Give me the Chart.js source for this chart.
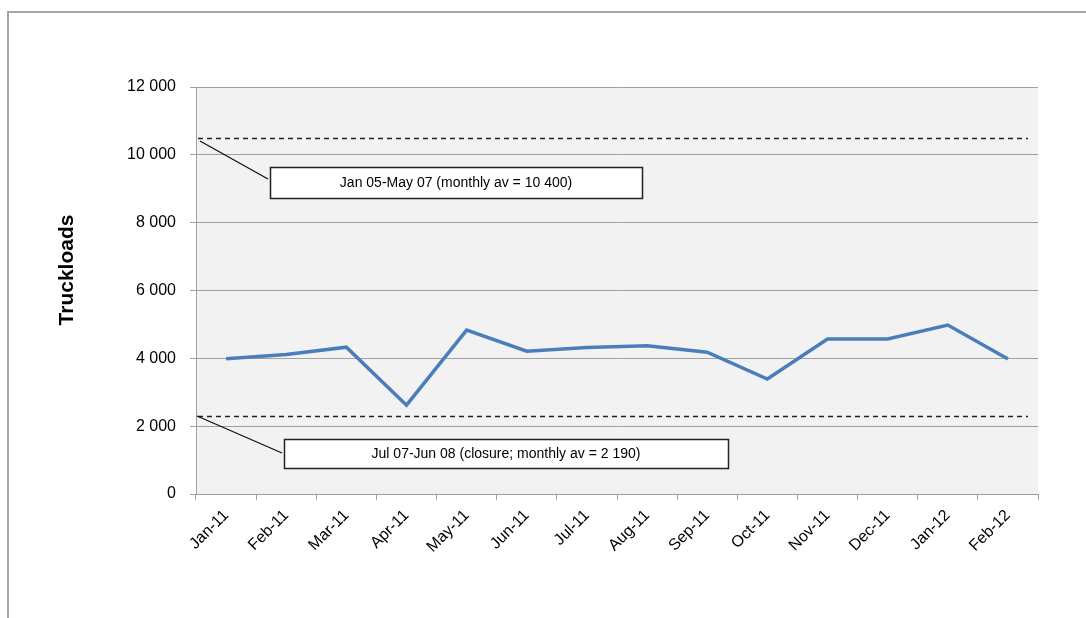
<!DOCTYPE html>
<html>
<head>
<meta charset="utf-8">
<script src="https://cdn.jsdelivr.net/npm/chart.js@4/dist/chart.umd.min.js"></script>
<style>
  html, body { margin: 0; padding: 0; background: #ffffff; }
  #wrap { position: relative; width: 1086px; height: 618px; overflow: hidden; }
  #frame { position: absolute; left: 7px; top: 11px; width: 1200px; height: 700px;
           border-left: 2px solid #a6a6a6; border-top: 2px solid #a6a6a6; pointer-events: none; }
  canvas { position: absolute; left: 0; top: 0; }
</style>
</head>
<body>
<div id="wrap">
  <canvas id="c" width="1086" height="618"></canvas>
  <div id="frame"></div>
</div>
<script>
// ---- data ----
const categories = ["Jan-11","Feb-11","Mar-11","Apr-11","May-11","Jun-11","Jul-11","Aug-11","Sep-11","Oct-11","Nov-11","Dec-11","Jan-12","Feb-12"];
const truckloads = [3990, 4110, 4330, 2620, 4830, 4210, 4320, 4370, 4180, 3390, 4570, 4570, 4980, 3980];
const referenceLevels = [10490, 2290];
const referenceLabels = ["Jan 05-May 07 (monthly av = 10 400)", "Jul 07-Jun 08 (closure; monthly av = 2 190)"];
const yTicks = [0, 2000, 4000, 6000, 8000, 10000, 12000];
const yAxisTitle = "Truckloads";

const FONT = "'Liberation Sans', Arial, sans-serif";

function fmt(v) {
  return String(v).replace(/\B(?=(\d{3})+(?!\d))/g, " ");
}

const bgPlugin = {
  id: 'plotBg',
  beforeDraw(chart) {
    const a = chart.chartArea, ctx = chart.ctx;
    ctx.save();
    ctx.fillStyle = '#f2f2f2';
    ctx.fillRect(a.left, a.top, a.right - a.left, a.bottom - a.top);
    ctx.restore();
  }
};

// annotation boxes (pixel layout)
const boxLayout = [
  { x0: 270, x1: 642, y0: 167, y1: 198, lx0: 200, ly0: 141, lx1: 268, ly1: 179 },
  { x0: 284, x1: 728, y0: 439, y1: 468, lx0: 197, ly0: 416, lx1: 282, ly1: 453 }
];

const refPlugin = {
  id: 'refLines',
  afterDatasetsDraw(chart) {
    const ctx = chart.ctx, a = chart.chartArea, ys = chart.scales.y;
    ctx.save();
    referenceLevels.forEach((lvl, i) => {
      const y = Math.round(ys.getPixelForValue(lvl)) + 0.5;
      ctx.strokeStyle = '#222';
      ctx.lineWidth = 1.3;
      ctx.setLineDash([5, 4]);
      ctx.beginPath();
      ctx.moveTo(a.left + 2, y);
      ctx.lineTo(a.right - 10, y);
      ctx.stroke();
      ctx.setLineDash([]);
      const b = boxLayout[i];
      ctx.lineWidth = 1.3;
      ctx.strokeStyle = '#111';
      ctx.beginPath();
      ctx.moveTo(b.lx0, b.ly0);
      ctx.lineTo(b.lx1, b.ly1);
      ctx.stroke();
      ctx.fillStyle = '#ffffff';
      ctx.fillRect(b.x0, b.y0, b.x1 - b.x0, b.y1 - b.y0);
      ctx.lineWidth = 1.5;
      ctx.strokeStyle = '#222';
      ctx.strokeRect(b.x0 + 0.5, b.y0 + 0.5, b.x1 - b.x0, b.y1 - b.y0);
      ctx.fillStyle = '#000';
      ctx.font = "14px " + FONT;
      ctx.textAlign = 'center';
      ctx.textBaseline = 'middle';
      ctx.fillText(referenceLabels[i], (b.x0 + b.x1) / 2, (b.y0 + b.y1) / 2 + 1);
    });
    ctx.restore();
  }
};

const titlePlugin = {
  id: 'yTitle',
  afterDraw(chart) {
    const ctx = chart.ctx;
    ctx.save();
    ctx.translate(67, 270);
    ctx.rotate(-Math.PI / 2);
    ctx.font = "bold 21px " + FONT;
    ctx.fillStyle = '#000';
    ctx.textAlign = 'center';
    ctx.textBaseline = 'middle';
    ctx.fillText(yAxisTitle, 0, 0);
    ctx.restore();
  }
};

new Chart(document.getElementById('c'), {
  type: 'line',
  data: {
    labels: categories,
    datasets: [{
      label: yAxisTitle,
      data: truckloads,
      borderColor: '#4a7ebb',
      borderWidth: 3.5,
      pointRadius: 0,
      tension: 0,
      fill: false
    }]
  },
  options: {
    responsive: false,
    animation: false,
    devicePixelRatio: 1,
    layout: { padding: { left: 54, right: 48, top: 87, bottom: 0 } },
    plugins: { legend: { display: false }, tooltip: { enabled: false } },
    scales: {
      x: {
        type: 'category',
        offset: true,
        grid: { offset: true, drawOnChartArea: false, drawTicks: true, tickLength: 6, color: '#a0a0a0' },
        border: { color: '#a0a0a0', width: 1 },
        ticks: { autoSkip: false, maxRotation: 45, minRotation: 45, padding: 6,
                 color: '#000', font: { size: 16, family: FONT } },
        afterFit(s) { s.height = 618 - 494; }
      },
      y: {
        min: 0, max: 12000,
        afterBuildTicks(s) { s.ticks = yTicks.map(v => ({ value: v })); },
        grid: { color: '#a0a0a0', tickLength: 6, lineWidth: 1 },
        border: { color: '#a0a0a0', width: 1 },
        ticks: { padding: 14, color: '#000', font: { size: 16, family: FONT },
                 callback: (v) => fmt(v) },
        afterFit(s) { s.width = 196 - 54; }
      }
    }
  },
  plugins: [bgPlugin, refPlugin, titlePlugin]
});
</script>
</body>
</html>
